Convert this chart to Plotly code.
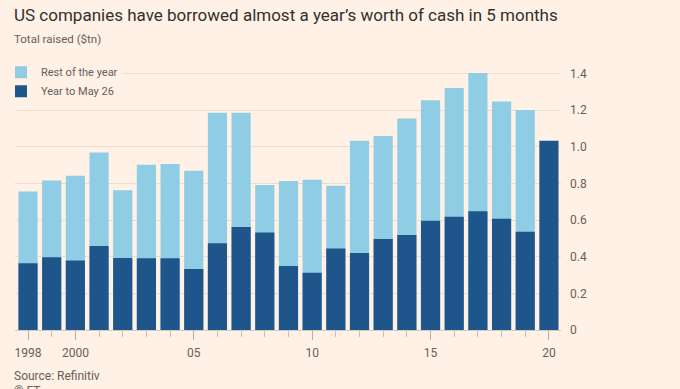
import plotly.graph_objects as go

years = list(range(1998, 2021))
full_year_total = [0.756, 0.816, 0.842, 0.969, 0.763, 0.903, 0.907, 0.870, 1.187, 1.187,
                   0.792, 0.814, 0.820, 0.788, 1.033, 1.060, 1.155, 1.255, 1.322, 1.403,
                   1.248, 1.202, None]
year_to_may26 = [0.364, 0.397, 0.379, 0.459, 0.393, 0.392, 0.392, 0.333, 0.474, 0.563,
                 0.532, 0.350, 0.313, 0.445, 0.421, 0.497, 0.519, 0.596, 0.619, 0.649,
                 0.608, 0.536, 1.033]
x_tickvals = [1998, 2000, 2005, 2010, 2015, 2020]
x_ticktext = ["1998", "2000", "05", "10", "15", "20"]
y_tickvals = [0, 0.2, 0.4, 0.6, 0.8, 1.0, 1.2, 1.4]
y_ticktext = ["0", "0.2", "0.4", "0.6", "0.8", "1.0", "1.2", "1.4"]

BG = "#FFF1E5"
LIGHT = "#8FCDE5"
DARK = "#1E568C"
FONT = "Roboto"
GREY = "#66605C"

# plot area in pixels
L, R, T, B = 15, 561, 70.3, 330
W, H = 680, 389
ph = B - T


def py(p):
    return (B - p) / ph


def px(p):
    return (p - L) / (R - L)


fig = go.Figure()
fig.add_trace(go.Bar(x=years, y=full_year_total, name="Rest of the year",
                     marker=dict(color=LIGHT, line=dict(width=0))))
fig.add_trace(go.Bar(x=years, y=year_to_may26, name="Year to May 26",
                     marker=dict(color=DARK, line=dict(width=0))))

fig.update_layout(
    width=W, height=H,
    margin=dict(l=L, r=W - R, t=T, b=H - B, pad=0, autoexpand=False),
    paper_bgcolor=BG, plot_bgcolor=BG,
    barmode="overlay", bargap=0.19,
    showlegend=True,
    legend=dict(x=px(1), y=py(58), xanchor="left", yanchor="top",
                bgcolor=BG, font=dict(family=FONT, size=11, color=GREY),
                traceorder="normal", itemsizing="constant",
                tracegroupgap=0, borderwidth=0),
    font=dict(family=FONT),
    hovermode=False,
    xaxis=dict(range=[1997.45, 2020.51], tickmode="array", tickvals=x_tickvals,
               ticktext=x_ticktext, ticks="outside", ticklen=9, tickcolor="#B8AEA6",
               tickwidth=1, ticklabelstandoff=3,
               minor=dict(tickmode="linear", tick0=1998, dtick=1, ticks="outside",
                          ticklen=6, tickcolor="#C9BFB6", tickwidth=1, showgrid=False),
               showgrid=False, zeroline=False, showline=True, linecolor="#D6CABF",
               linewidth=1, tickfont=dict(family=FONT, size=12, color=GREY)),
    yaxis=dict(range=[0, 1.42], side="right", tickmode="array", tickvals=y_tickvals,
               ticktext=y_ticktext, showgrid=True, gridcolor="#E9DCD1", gridwidth=1,
               zeroline=False, showline=False, ticks="",
               ticklabelstandoff=8,
               tickfont=dict(family=FONT, size=12, color=GREY)),
)

fig.add_annotation(text="US companies have borrowed almost a year’s worth of cash in 5 months",
                   xref="paper", yref="paper", x=px(12), y=py(15),
                   xanchor="left", yanchor="middle", showarrow=False,
                   font=dict(family=FONT, size=17, color="#33302E"))
fig.add_annotation(text="Total raised ($tn)",
                   xref="paper", yref="paper", x=px(12), y=py(39),
                   xanchor="left", yanchor="middle", showarrow=False,
                   font=dict(family=FONT, size=11.5, color=GREY))
fig.add_annotation(text="Source: Refinitiv",
                   xref="paper", yref="paper", x=px(12), y=py(376),
                   xanchor="left", yanchor="middle", showarrow=False,
                   font=dict(family=FONT, size=12, color=GREY))
fig.add_annotation(text="© FT",
                   xref="paper", yref="paper", x=px(12), y=py(391),
                   xanchor="left", yanchor="middle", showarrow=False,
                   font=dict(family=FONT, size=12, color=GREY))

fig.write_html("out.html", config={"displayModeBar": False},
               post_script="document.body.style.margin='0';")
